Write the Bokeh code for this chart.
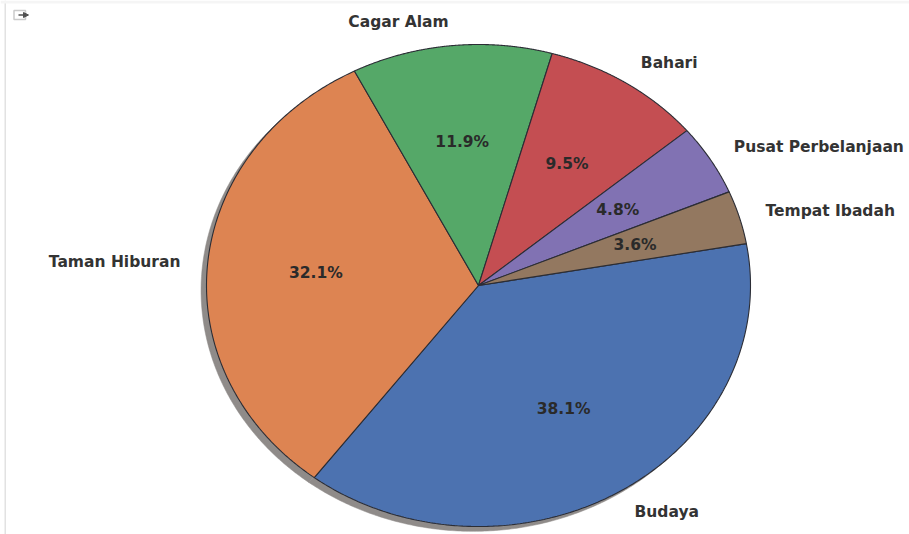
import numpy as np
from bokeh.embed import file_html
from bokeh.resources import INLINE
from bokeh.plotting import figure
from bokeh.models import BoxAnnotation, Arrow, NormalHead, Range1d
from bokeh.core.properties import value

categories = ["Budaya", "Taman Hiburan", "Cagar Alam", "Bahari", "Pusat Perbelanjaan", "Tempat Ibadah"]
values = [32, 27, 10, 8, 4, 3]
pct_labels = ["38.1%", "32.1%", "11.9%", "9.5%", "4.8%", "3.6%"]
colors = ["#4c72b0", "#dd8452", "#55a868", "#c44e52", "#8172b3", "#937860"]
START_ANGLE = 10.0

W, H = 909, 534
CX, CY, RX, RY = 478.0, 285.0, 272.0, 241.0

p = figure(width=W, height=H, output_backend="svg", toolbar_location=None,
           x_range=Range1d(-CX / RX, (W - CX) / RX),
           y_range=Range1d(-(H - CY) / RY, CY / RY),
           min_border=0, outline_line_color=None, background_fill_color="white")
p.axis.visible = False
p.grid.visible = False

fracs = np.array(values, dtype=float) / sum(values)
ends = START_ANGLE - 360 * np.cumsum(fracs)
starts = np.concatenate([[START_ANGLE], ends[:-1]])
mids = np.radians((starts + ends) / 2)

xs, ys = [], []
for a0, a1 in zip(starts, ends):
    t = np.radians(np.linspace(a0, a1, 240))
    xs.append(np.concatenate([[0], np.cos(t), [0]]))
    ys.append(np.concatenate([[0], np.sin(t), [0]]))

# drop shadow
SHADOW = 0.02
p.patches([x - SHADOW for x in xs], [y - SHADOW for y in ys],
          fill_color="#8f8b89", line_color="#8f8b89", line_width=0.5)
# wedges
p.patches(xs, ys, fill_color=colors, line_color="#2b2d35", line_width=1.1)

ha = ["left" if c > 0 else "right" for c in np.cos(mids)]
p.text(1.1 * np.cos(mids), 1.1 * np.sin(mids), text=categories,
       text_align=ha, text_baseline="middle",
       text_font=value("DejaVu Sans"), text_font_style="bold",
       text_font_size="15.5px", text_color="#333333")
p.text(0.6 * np.cos(mids), 0.6 * np.sin(mids), text=pct_labels,
       text_align="center", text_baseline="middle",
       text_font=value("DejaVu Sans"), text_font_style="bold",
       text_font_size="15.5px", text_color="#2a2a2a")

# notebook chrome (screen units count up from the canvas bottom): rule, band, icon
box = dict(left_units="screen", right_units="screen", top_units="screen", bottom_units="screen")
p.add_layout(BoxAnnotation(left=4, right=5.5, top=H, bottom=0, **box,
                           fill_color="#e2e2e2", fill_alpha=1, line_color=None))
p.add_layout(BoxAnnotation(left=0, right=W, top=H, bottom=H - 3, **box,
                           fill_color="#f5f5f5", fill_alpha=1, line_color=None))
p.add_layout(BoxAnnotation(left=13.5, right=25, top=H - 10, bottom=H - 19, **box,
                           fill_color="white", fill_alpha=1, line_color="#505050", line_width=1.5))
p.add_layout(Arrow(end=NormalHead(size=5, fill_color="#505050", line_color="#505050"),
                   x_start=18, y_start=H - 14.5, x_end=28, y_end=H - 14.5,
                   start_units="screen", end_units="screen",
                   line_color="#505050", line_width=1.3))

open("out.html", "w").write(file_html(p, INLINE))
